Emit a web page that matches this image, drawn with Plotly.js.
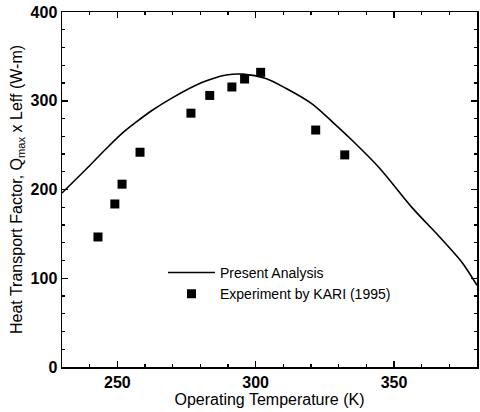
<!DOCTYPE html>
<html>
<head>
<meta charset="utf-8">
<script src="https://cdn.plot.ly/plotly-3.0.1.min.js"></script>
<style>html,body{margin:0;padding:0;background:#fff;}#chart{width:480px;height:412px;}</style>
</head>
<body>
<div id="chart"></div>
<script>
const analysisT = [230, 239.4, 245.5, 252, 256.4, 262.5, 269.7, 281, 289.4, 295.4, 303.7, 310.9, 320.6, 327.8, 334, 344.8, 356.7, 366.5, 374.8, 380];
const analysisQ = [196, 225, 244.5, 264, 275, 289, 303, 321, 329, 330, 325, 314, 296, 276, 258, 224, 179, 146.5, 117, 92];
const expT = [243, 249.1, 251.7, 258.2, 276.6, 283.4, 291.4, 296, 301.8, 321.7, 332.2];
const expQ = [146.5, 183.7, 206, 242, 286, 306, 315.5, 324.5, 332, 267, 239];
const seriesNames = ["Present Analysis", "Experiment by KARI (1995)"];

const font = "Liberation Sans, Arial, sans-serif";
const traces = [
  {x: analysisT, y: analysisQ, mode: "lines", name: seriesNames[0],
   line: {color: "#000", width: 1.6, shape: "spline", smoothing: 0.8}},
  {x: expT, y: expQ, mode: "markers", name: seriesNames[1],
   marker: {symbol: "square", size: 9, color: "#000"}}
];
const axisCommon = {
  showgrid: false, zeroline: false, showline: true, linecolor: "#000", linewidth: 1.5,
  mirror: "ticks", ticks: "inside", ticklen: 6, tickwidth: 1.5, tickcolor: "#000",
  tickfont: {family: font, size: 16, color: "#000", weight: "bold"},
  minor: {ticks: "inside", ticklen: 3, tickwidth: 1.2, tickcolor: "#000", showgrid: false}
};
const layout = {
  width: 480, height: 412,
  margin: {l: 62, r: 3, t: 12, b: 45},
  paper_bgcolor: "#fff", plot_bgcolor: "#fff",
  showlegend: true,
  legend: {x: (163-62)/415, y: 0.31, xanchor: "left", yanchor: "top",
           bgcolor: "rgba(0,0,0,0)", itemwidth: 47, tracegroupgap: 0,
           font: {family: font, size: 14, color: "#000"}},
  xaxis: Object.assign({}, axisCommon, {
    range: [230, 380], dtick: 50, tick0: 250,
    minor: Object.assign({}, axisCommon.minor, {dtick: 10}),
    title: {text: "Operating Temperature (K)", standoff: 2, font: {family: font, size: 16, color: "#000"}}
  }),
  yaxis: Object.assign({}, axisCommon, {
    range: [0, 400], dtick: 100,
    minor: Object.assign({}, axisCommon.minor, {dtick: 20}),
    title: {text: "Heat Transport Factor, Q<sub>max</sub> x Leff (W-m)", standoff: 4, font: {family: font, size: 16, color: "#000"}}
  })
};
Plotly.newPlot("chart", traces, layout, {displayModeBar: false, staticPlot: true});
</script>
</body>
</html>
